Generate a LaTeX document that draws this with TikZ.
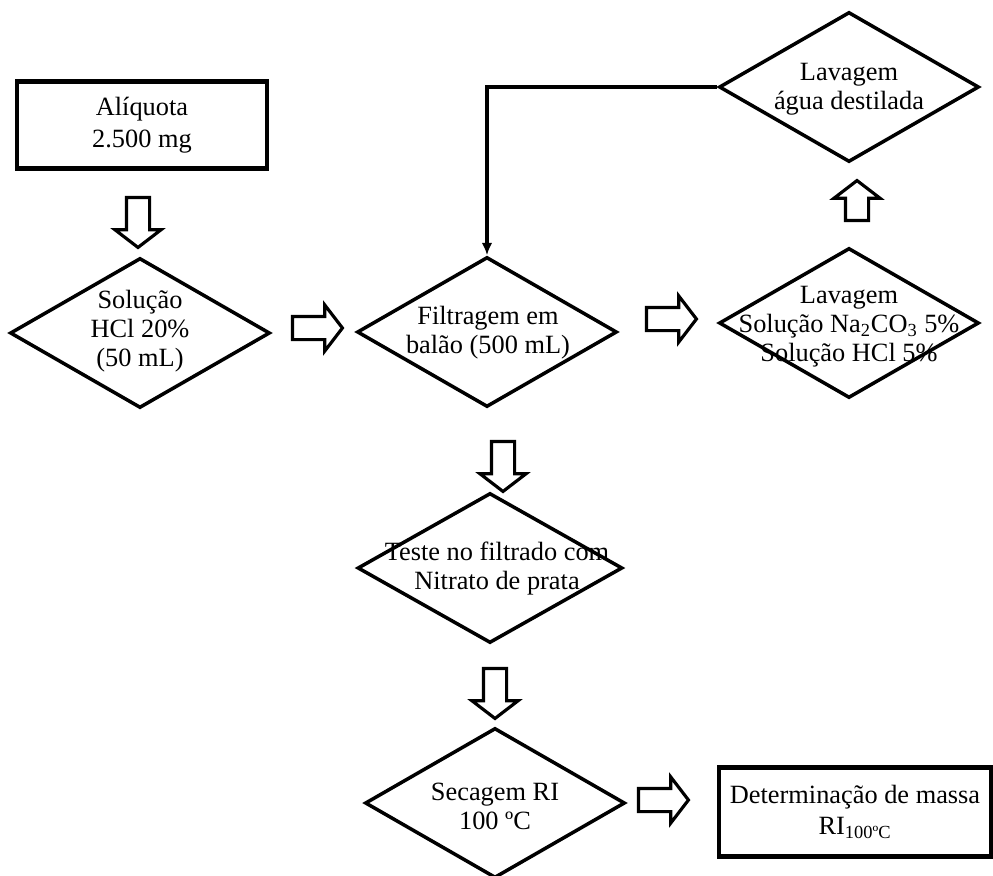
\documentclass[tikz,border=0pt]{standalone}
\usepackage{fontspec}
\setmainfont{Liberation Serif}
\usetikzlibrary{shapes.geometric, shapes.arrows, arrows.meta}
\begin{document}
\begin{tikzpicture}[x=0.02cm, y=-0.02cm,
    boxStyle/.style={rectangle, draw, line width=2.6pt, minimum width=5cm, minimum height=1.74cm, align=center, font=\fontsize{15}{18}\selectfont},
    decisionStyle/.style={diamond, draw, line width=2pt, minimum width=5.2cm, minimum height=3cm, inner sep=0pt},
    textStyle/.style={align=center, font=\fontsize{15}{16.5}\selectfont, inner sep=0pt},
    arrowStyle/.style={single arrow, draw, line width=1.8pt, minimum height=1.0cm, inner sep=0.2cm, single arrow head extend=0.23cm, single arrow tip angle=105, single arrow head indent=0pt},
    downArrow/.style={arrowStyle, shape border rotate=270},
    upArrow/.style={arrowStyle, shape border rotate=90, minimum height=0.8cm},
    feedback/.style={line width=2pt, -{Latex[length=7pt, width=6pt]}}]
    \useasboundingbox (0,0) rectangle (993,875);

    \node[boxStyle](aliq) at (142, 125) {Alíquota\\2.500 mg};
    \node[decisionStyle](sol) at (140, 333) {};
    \node[textStyle](solText) at (140, 331) {Solução\\HCl 20\%\\(50 mL)};
    \node[decisionStyle](filt) at (487, 332) {};
    \node[textStyle](filtText) at (488, 333) {Filtragem em\\balão (500 mL)};
    \node[decisionStyle](lavA) at (849, 87) {};
    \node[textStyle](lavAText) at (849, 89) {Lavagem\\água destilada};
    \node[decisionStyle](lavS) at (849, 323) {};
    \node[textStyle](lavSText) at (849, 327) {Lavagem\\Solução Na\textsubscript{2}CO\textsubscript{3} 5\%\\Solução HCl 5\%};
    \node[decisionStyle, minimum width=5.3cm](teste) at (490, 568) {};
    \node[textStyle](testeText) at (497, 569) {Teste no filtrado com\\Nitrato de prata};
    \node[decisionStyle](sec) at (495, 803) {};
    \node[textStyle](secText) at (495, 806) {Secagem RI\\100 ºC};
    \node[boxStyle, minimum width=5.44cm, minimum height=1.78cm](det) at (855, 812) {Determinação de massa\\RI\textsubscript{100ºC}};

    % setas de bloco
    \node[downArrow](a1) at (138, 218) {};
    \node[arrowStyle](a2) at (313, 328) {};
    \node[arrowStyle](a3) at (667, 319) {};
    \node[upArrow](a4) at (857, 205) {};
    \node[downArrow](a5) at (503, 462) {};
    \node[downArrow](a6) at (495, 689) {};
    \node[arrowStyle](a7) at (659, 800) {};

    \draw[feedback] (lavA.west) -| (filt.north);
\end{tikzpicture}
\end{document}
